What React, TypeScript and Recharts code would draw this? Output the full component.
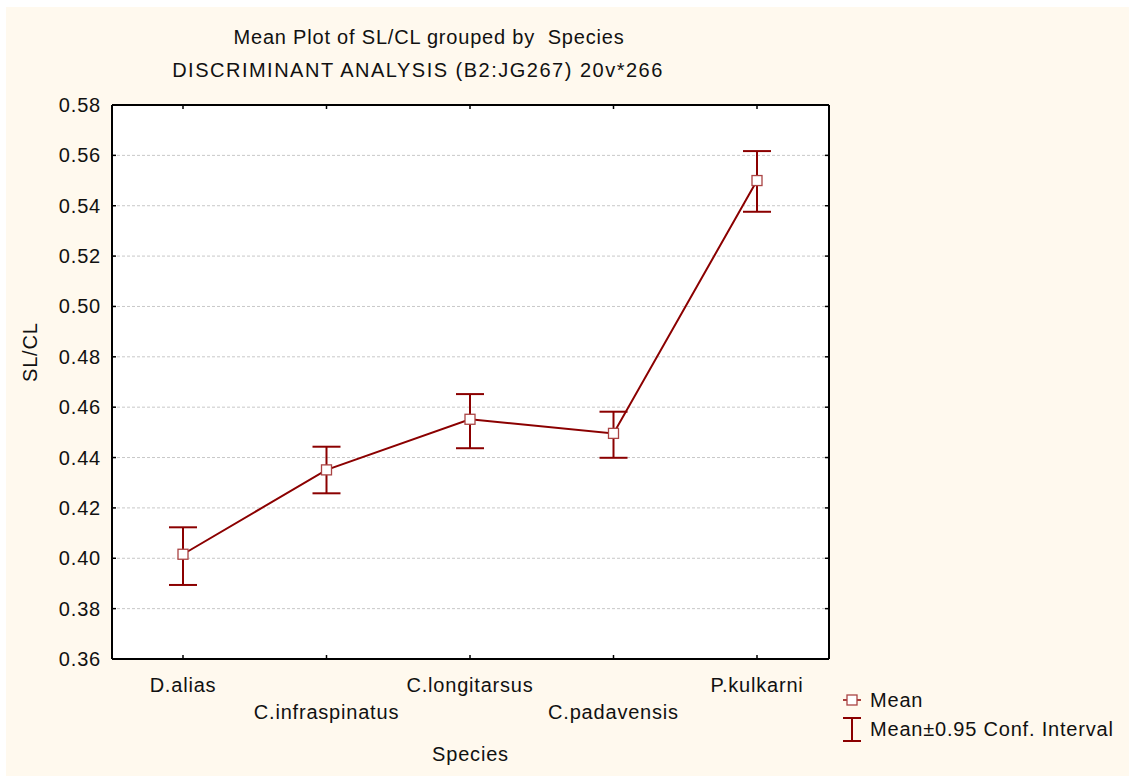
import React from 'react';
import { ComposedChart, Line, ErrorBar, XAxis, YAxis, CartesianGrid } from 'recharts';

const species = ['D.alias', 'C.infraspinatus', 'C.longitarsus', 'C.padavensis', 'P.kulkarni'];
const means = [0.4016, 0.4351, 0.4552, 0.4496, 0.55];
const lower = [0.3894, 0.4258, 0.4437, 0.4399, 0.5376];
const upper = [0.4123, 0.4443, 0.4652, 0.4582, 0.5617];
const yTicks = [0.36, 0.38, 0.4, 0.42, 0.44, 0.46, 0.48, 0.5, 0.52, 0.54, 0.56, 0.58];

const data = species.map((s, i) => ({
  species: s,
  mean: means[i],
  ci: [means[i] - lower[i], upper[i] - means[i]],
}));

const DARK = '#8b0000';
const FONT = '"Liberation Sans", Arial, sans-serif';
const BG = '#fff9ee';
const LS = '0.8px';

const BottomTick = (props: any) => {
  const { x, y, payload, index } = props;
  return (
    <g>
      <line x1={x} y1={y} x2={x} y2={y - 4} stroke="#000" strokeWidth={1.5} />
      <text x={x} y={y + (index % 2 ? 53 : 26)} textAnchor="middle" dominantBaseline="central"
        fontSize={20} fontFamily={FONT} fill="#111" style={{ letterSpacing: LS }}>{payload.value}</text>
    </g>
  );
};

const TopTick = (props: any) => {
  const { x, y } = props;
  return <line x1={x} y1={y} x2={x} y2={y + 4} stroke="#000" strokeWidth={1.5} />;
};

const LeftTick = (props: any) => {
  const { x, y, payload } = props;
  return (
    <g>
      <line x1={x} y1={y} x2={x + 4} y2={y} stroke="#000" strokeWidth={1.5} />
      <text x={x - 11} y={y} textAnchor="end" dominantBaseline="central"
        fontSize={20} fontFamily={FONT} fill="#111" style={{ letterSpacing: LS }}>
        {Number(payload.value).toFixed(2)}
      </text>
    </g>
  );
};

const RightTick = (props: any) => {
  const { x, y } = props;
  return <line x1={x} y1={y} x2={x - 4} y2={y} stroke="#000" strokeWidth={1.5} />;
};

const SquareDot = (props: any) => {
  const { cx, cy } = props;
  return <rect x={cx - 5} y={cy - 5} width={10} height={10} fill="#fff" stroke="#a44" strokeWidth={1.3} />;
};

export default function App() {
  return (
    <div style={{ position: 'absolute', left: 0, top: 0, width: 1129, height: 776, background: '#fff' }}>
      <div style={{ position: 'absolute', left: 6, top: 7, width: 1123, height: 769, background: BG, fontFamily: FONT, color: '#111', letterSpacing: LS }}>
        <div style={{ position: 'absolute', left: 0, width: 846, top: 19, textAlign: 'center', fontSize: 20, lineHeight: '22px' }}>
          Mean Plot of SL/CL grouped by&nbsp; Species
        </div>
        <div style={{ position: 'absolute', left: 0, width: 824, top: 52, textAlign: 'center', fontSize: 20, lineHeight: '22px', letterSpacing: '1.5px' }}>
          DISCRIMINANT ANALYSIS (B2:JG267) 20v*266
        </div>
        <ComposedChart width={1123} height={769} data={data}
          margin={{ top: 88, right: 290, bottom: 57, left: 46 }}>
          <CartesianGrid horizontal vertical={false} fill="#fff" stroke="#c8c8c8" strokeDasharray="3 2"
            yAxisId="left" />
          <XAxis dataKey="species" scale="point" padding={{ left: 71, right: 72 }} height={60}
            interval={0} tickSize={0} tickMargin={0} tickLine={false}
            axisLine={{ stroke: '#000', strokeWidth: 2 }} tick={<BottomTick />}
            label={{ value: 'Species', position: 'insideBottom', offset: -42, fontSize: 20, fontFamily: FONT, fill: '#111', style: { letterSpacing: LS } }} />
          <XAxis xAxisId="top" orientation="top" dataKey="species" scale="point" padding={{ left: 71, right: 72 }}
            height={10} interval={0} tickSize={0} tickMargin={0} tickLine={false}
            axisLine={{ stroke: '#000', strokeWidth: 2 }} tick={<TopTick />} />
          <YAxis yAxisId="left" domain={[0.36, 0.58]} ticks={yTicks} width={60} interval={0}
            tickSize={0} tickMargin={0} tickLine={false} allowDataOverflow
            axisLine={{ stroke: '#000', strokeWidth: 2 }} tick={<LeftTick />}
            label={{ value: 'SL/CL', angle: -90, position: 'insideLeft', offset: -22, fontSize: 20, fontFamily: FONT, fill: '#111', style: { letterSpacing: LS } }} />
          <YAxis yAxisId="right" orientation="right" domain={[0.36, 0.58]} ticks={yTicks} width={10} interval={0}
            tickSize={0} tickMargin={0} tickLine={false} allowDataOverflow
            axisLine={{ stroke: '#000', strokeWidth: 2 }} tick={<RightTick />} />
          <Line yAxisId="left" type="linear" dataKey="mean" stroke={DARK} strokeWidth={2}
            dot={<SquareDot />} activeDot={false} isAnimationActive={false}>
            <ErrorBar dataKey="ci" width={14} stroke={DARK} strokeWidth={2} direction="y" />
          </Line>
        </ComposedChart>
        <div style={{ position: 'absolute', left: 830, top: 679, fontSize: 20, lineHeight: '29px' }}>
          <div style={{ display: 'flex', alignItems: 'center' }}>
            <svg width={34} height={29}>
              <line x1={7} y1={14} x2={25} y2={14} stroke={DARK} strokeWidth={1.5} />
              <rect x={11} y={9} width={10} height={10} fill="#fff" stroke="#a44" strokeWidth={1.3} />
            </svg>
            <span>Mean</span>
          </div>
          <div style={{ display: 'flex', alignItems: 'center' }}>
            <svg width={34} height={29}>
              <line x1={7} y1={3} x2={25} y2={3} stroke={DARK} strokeWidth={2} />
              <line x1={16} y1={3} x2={16} y2={26} stroke={DARK} strokeWidth={2} />
              <line x1={7} y1={26} x2={25} y2={26} stroke={DARK} strokeWidth={2} />
            </svg>
            <span>Mean±0.95 Conf. Interval</span>
          </div>
        </div>
      </div>
    </div>
  );
}
